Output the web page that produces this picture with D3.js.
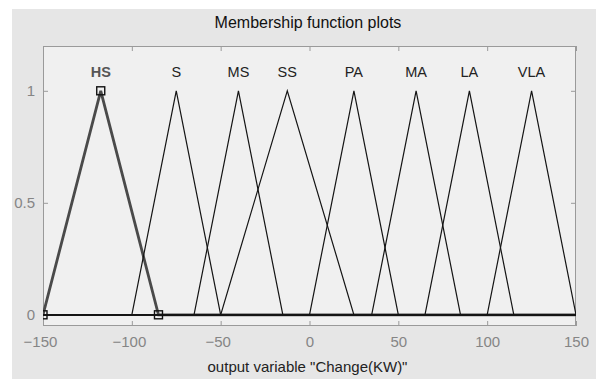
<!DOCTYPE html>
<html>
<head>
<meta charset="utf-8">
<script src="https://cdn.jsdelivr.net/npm/d3@7"></script>
<style>
  body { margin: 0; background: #fff; }
  svg text { font-family: "Liberation Sans", Arial, sans-serif; }
</style>
</head>
<body>
<div id="chart"></div>
<script>
// membership functions of output variable "Change(KW)"
const mfNames = ['HS', 'S', 'MS', 'SS', 'PA', 'MA', 'LA', 'VLA'];
const mfParams = [
  [-150, -117.5, -85],
  [-100, -75, -50],
  [-65, -40, -15],
  [-50, -12.5, 25],
  [0, 25, 50],
  [35, 60, 85],
  [65, 90, 115],
  [100, 125, 150]
];
const selected = 'HS';
const xTicks = [-150, -100, -50, 0, 50, 100, 150];
const yTicks = [0, 0.5, 1];

const w = 596;
const h = 379;
const plotL = 43, plotR = 576, plotT = 46, plotB = 326;

const svg = d3.select('#chart')
  .append('svg')
  .attr('width', w)
  .attr('height', h);

svg.append('defs')
  .append('clipPath')
  .attr('id', 'plotclip')
  .append('rect')
  .attr('x', plotL).attr('y', plotT)
  .attr('width', plotR - plotL).attr('height', plotB - plotT);

// figure panel
svg.append('rect')
  .attr('x', 12).attr('y', 9)
  .attr('width', w - 12).attr('height', h - 9)
  .attr('fill', '#e6e6e6');

svg.append('rect')
  .attr('x', plotL).attr('y', plotT)
  .attr('width', plotR - plotL).attr('height', plotB - plotT)
  .attr('fill', '#f0f0f0');

const xScale = d3.scaleLinear().domain([-150, 150]).range([plotL, plotR]);
const yScale = d3.scaleLinear().domain([-0.05, 1.2]).range([plotB, plotT]);

const axisColor = '#9a9a9a';
function styleAxis(g) {
  g.select('.domain').remove();
  g.selectAll('.tick line').attr('stroke', axisColor);
  g.selectAll('.tick text')
    .attr('fill', '#858585')
    .style('font-size', '15px');
}

svg.append('g')
  .attr('transform', 'translate(0,' + plotB + ')')
  .call(d3.axisBottom(xScale).tickValues(xTicks).tickSizeInner(-5).tickSizeOuter(0).tickPadding(10))
  .call(styleAxis)
  .selectAll('.tick text')
  .attr('dx', (d) => d < 0 ? '-0.2em' : 0);

svg.append('g')
  .attr('transform', 'translate(0,' + plotT + ')')
  .call(d3.axisTop(xScale).tickValues(xTicks).tickSizeInner(-5).tickSizeOuter(0).tickFormat(''))
  .call(styleAxis);

svg.append('g')
  .attr('transform', 'translate(' + plotL + ',0)')
  .call(d3.axisLeft(yScale).tickValues(yTicks).tickFormat(d3.format('')).tickSizeInner(-5).tickSizeOuter(0).tickPadding(8))
  .call(styleAxis);

svg.append('g')
  .attr('transform', 'translate(' + plotR + ',0)')
  .call(d3.axisRight(yScale).tickValues(yTicks).tickSizeInner(-5).tickSizeOuter(0).tickFormat(''))
  .call(styleAxis);

// plot box
svg.append('rect')
  .attr('x', plotL + 0.5).attr('y', plotT + 0.5)
  .attr('width', plotR - plotL - 1).attr('height', plotB - plotT - 1)
  .attr('fill', 'none')
  .attr('stroke', axisColor);

const line = d3.line()
  .x((d) => xScale(d[0]))
  .y((d) => yScale(d[1]));

const mfData = mfNames.map((name, i) => {
  const p = mfParams[i];
  return {
    name: name,
    peak: p[1],
    points: [[-150, 0], [p[0], 0], [p[1], 1], [p[2], 0], [150, 0]]
  };
});

// selected mf first (thick grey), the others drawn over it
const ordered = mfData.filter((d) => d.name === selected)
  .concat(mfData.filter((d) => d.name !== selected));

const plot = svg.append('g').attr('clip-path', 'url(#plotclip)');

plot.selectAll('path')
  .data(ordered)
  .enter()
  .append('path')
  .attr('d', (d) => line(d.points))
  .attr('fill', 'none')
  .attr('stroke', (d) => d.name === selected ? '#4a4a4a' : '#141414')
  .attr('stroke-width', (d) => d.name === selected ? 2.8 : 1.2);

// markers on the selected mf
const sel = mfParams[mfNames.indexOf(selected)];
plot.selectAll('rect')
  .data([[sel[0], 0], [sel[1], 1], [sel[2], 0]])
  .enter()
  .append('rect')
  .attr('x', (d) => xScale(d[0]) - 4)
  .attr('y', (d) => yScale(d[1]) - 4)
  .attr('width', 8)
  .attr('height', 8)
  .attr('fill', 'none')
  .attr('stroke', '#111')
  .attr('stroke-width', 1.4);

// mf names
svg.append('g')
  .selectAll('text')
  .data(mfData)
  .enter()
  .append('text')
  .attr('x', (d) => xScale(d.peak))
  .attr('y', 77)
  .attr('text-anchor', 'middle')
  .style('font-size', '14.5px')
  .style('font-weight', (d) => d.name === selected ? 'bold' : 'normal')
  .attr('fill', (d) => d.name === selected ? '#555' : '#222')
  .text((d) => d.name);

svg.append('text')
  .attr('x', 308)
  .attr('y', 28)
  .attr('text-anchor', 'middle')
  .style('font-size', '16px')
  .attr('fill', '#111')
  .text('Membership function plots');

svg.append('text')
  .attr('x', 307.5)
  .attr('y', 372)
  .attr('text-anchor', 'middle')
  .style('font-size', '15px')
  .attr('fill', '#222')
  .text('output variable "Change(KW)"');
</script>
</body>
</html>
